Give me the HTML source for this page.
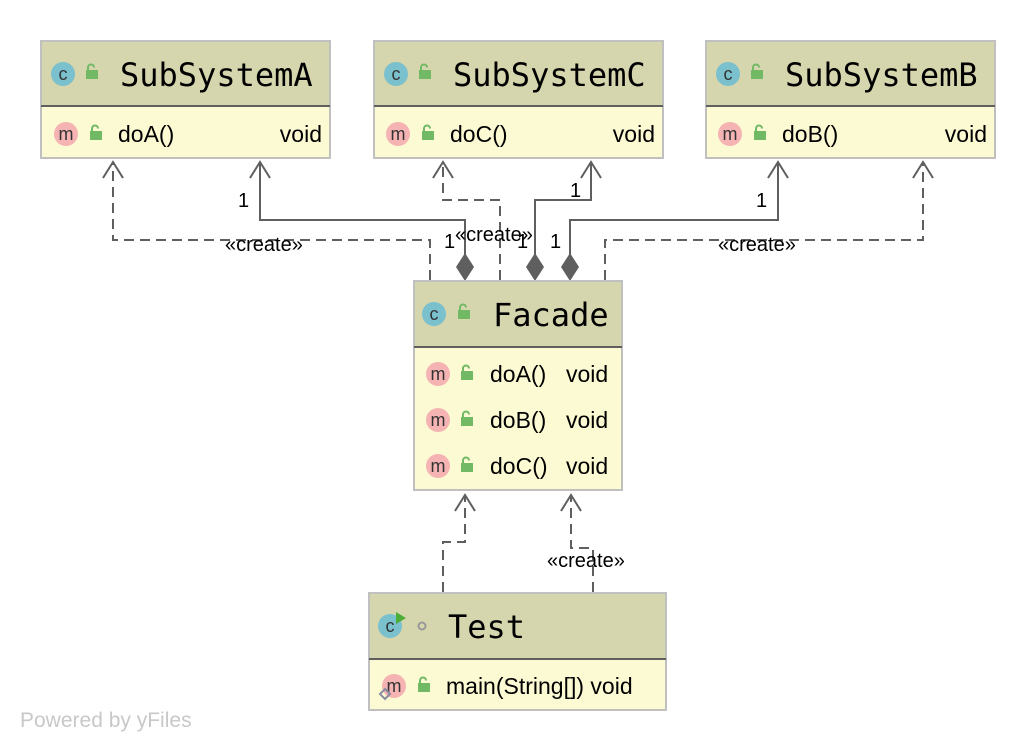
<!DOCTYPE html>
<html><head><meta charset="utf-8"><style>
html,body{margin:0;padding:0;background:#fff;}
svg{display:block}
.t{font-family:"DejaVu Sans Mono","Liberation Mono",monospace;font-size:32px;fill:#000}
.m{font-family:"Liberation Sans","DejaVu Sans",sans-serif;font-size:23px;fill:#000}
.l{font-family:"Liberation Sans",sans-serif;font-size:20px;fill:#000}
.ci{font-family:"Liberation Sans",sans-serif;font-size:18px;fill:#333}
</style></head><body>
<svg width="1036" height="752" viewBox="0 0 1036 752" xmlns="http://www.w3.org/2000/svg">
<defs>
<g id="lock"><rect x="0" y="4" width="12" height="9" fill="#72b966"/><path d="M2 5 V1.5 A3 3 0 0 1 8 1.5" fill="none" stroke="#72b966" stroke-width="2"/></g>
<g id="cic"><circle cx="0" cy="0" r="12" fill="#7ac0cd"/><text x="0" y="6" text-anchor="middle" class="ci">c</text></g>
<g id="mic"><circle cx="0" cy="0" r="12" fill="#f5b3b3"/><text x="0" y="6" text-anchor="middle" class="ci">m</text></g>
</defs>
<g fill="none" stroke="#5f5f5f" stroke-width="2">
<g stroke-dasharray="10,6">
<path d="M430 280 V240 H113 V162"/>
<path d="M500 280 V200 H443 V162"/>
<path d="M605 280 V240 H923 V162"/>
<path d="M443 592 V542 H465 V495"/>
<path d="M593 592 V548 H571 V495"/>
</g>
<path d="M465 255 V220 H260 V162"/>
<path d="M535 255 V200 H591 V162"/>
<path d="M570 255 V220 H778 V162"/>
<path d="M103 178 L113 162 L123 178"/>
<path d="M250 178 L260 162 L270 178"/>
<path d="M433 178 L443 162 L453 178"/>
<path d="M581 178 L591 162 L601 178"/>
<path d="M768 178 L778 162 L788 178"/>
<path d="M913 178 L923 162 L933 178"/>
<path d="M455 511 L465 495 L475 511"/>
<path d="M561 511 L571 495 L581 511"/>
</g>
<g fill="#5f5f5f">
<path d="M465 253 L474 267 L465 281 L456 267Z"/>
<path d="M535 253 L544 267 L535 281 L526 267Z"/>
<path d="M570 253 L579 267 L570 281 L561 267Z"/>
</g>
<text x="238" y="207" class="l">1</text>
<text x="444" y="248" class="l">1</text>
<text x="225" y="251" class="l">«create»</text>
<text x="455" y="241" class="l">«create»</text>
<text x="570" y="197" class="l">1</text>
<text x="517" y="248" class="l">1</text>
<text x="550" y="248" class="l">1</text>
<text x="756" y="207" class="l">1</text>
<text x="718" y="251" class="l">«create»</text>
<text x="547" y="567" class="l">«create»</text>
<g>
<rect x="41" y="41" width="289" height="117" fill="#fcfad2" stroke="#c0c0c0" stroke-width="2"/>
<rect x="42" y="42" width="287" height="63" fill="#d6d6ae"/>
<line x1="41" y1="106" x2="330" y2="106" stroke="#5f5f5f" stroke-width="2"/>
<use href="#cic" x="63" y="74"/><use href="#lock" x="86" y="66"/>
<text x="120" y="86" class="t">SubSystemA</text>
<use href="#mic" x="66" y="134"/><use href="#lock" x="90" y="127"/>
<text x="118" y="142" class="m">doA()</text><text x="322" y="142" class="m" text-anchor="end">void</text>
</g>
<g>
<rect x="374" y="41" width="289" height="117" fill="#fcfad2" stroke="#c0c0c0" stroke-width="2"/>
<rect x="375" y="42" width="287" height="63" fill="#d6d6ae"/>
<line x1="374" y1="106" x2="663" y2="106" stroke="#5f5f5f" stroke-width="2"/>
<use href="#cic" x="396" y="74"/><use href="#lock" x="419" y="66"/>
<text x="453" y="86" class="t">SubSystemC</text>
<use href="#mic" x="398" y="134"/><use href="#lock" x="422" y="127"/>
<text x="450" y="142" class="m">doC()</text><text x="655" y="142" class="m" text-anchor="end">void</text>
</g>
<g>
<rect x="706" y="41" width="289" height="117" fill="#fcfad2" stroke="#c0c0c0" stroke-width="2"/>
<rect x="707" y="42" width="287" height="63" fill="#d6d6ae"/>
<line x1="706" y1="106" x2="995" y2="106" stroke="#5f5f5f" stroke-width="2"/>
<use href="#cic" x="728" y="74"/><use href="#lock" x="751" y="66"/>
<text x="785" y="86" class="t">SubSystemB</text>
<use href="#mic" x="730" y="134"/><use href="#lock" x="754" y="127"/>
<text x="782" y="142" class="m">doB()</text><text x="987" y="142" class="m" text-anchor="end">void</text>
</g>
<g>
<rect x="414" y="281" width="208" height="209" fill="#fcfad2" stroke="#c0c0c0" stroke-width="2"/>
<rect x="415" y="282" width="206" height="64" fill="#d6d6ae"/>
<line x1="414" y1="347" x2="622" y2="347" stroke="#5f5f5f" stroke-width="2"/>
<use href="#cic" x="434" y="314"/><use href="#lock" x="458" y="306"/>
<text x="493" y="326" class="t">Facade</text>
<use href="#mic" x="438" y="374"/><use href="#lock" x="461" y="367"/>
<text x="490" y="382" class="m">doA()</text><text x="566" y="382" class="m">void</text>
<use href="#mic" x="438" y="420"/><use href="#lock" x="461" y="413"/>
<text x="490" y="428" class="m">doB()</text><text x="566" y="428" class="m">void</text>
<use href="#mic" x="438" y="466"/><use href="#lock" x="461" y="459"/>
<text x="490" y="474" class="m">doC()</text><text x="566" y="474" class="m">void</text>
</g>
<g>
<rect x="369" y="593" width="297" height="117" fill="#fcfad2" stroke="#c0c0c0" stroke-width="2"/>
<rect x="370" y="594" width="295" height="64" fill="#d6d6ae"/>
<line x1="369" y1="659" x2="666" y2="659" stroke="#5f5f5f" stroke-width="2"/>
<use href="#cic" x="390" y="626"/><path d="M396 612 L406 618 L396 624Z" fill="#4cae3a"/>
<circle cx="422" cy="626" r="3.5" fill="none" stroke="#999" stroke-width="2"/>
<text x="448" y="638" class="t">Test</text>
<use href="#mic" x="394" y="686"/>
<path d="M385 689 L390 694 L385 699 L380 694Z" fill="none" stroke="#8a8aa0" stroke-width="2"/>
<use href="#lock" x="418" y="679"/>
<text x="446" y="694" class="m">main(String[]) void</text>
</g>
<text x="20" y="727" font-family="Liberation Sans,sans-serif" font-size="21" fill="#c8c8c8">Powered by yFiles</text>
</svg>
</body></html>
